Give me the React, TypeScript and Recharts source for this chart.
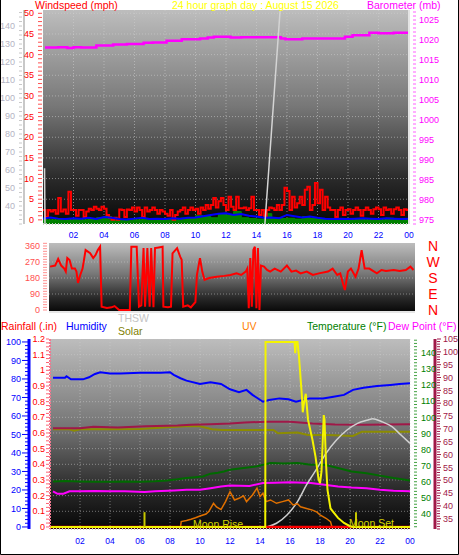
import {
  ComposedChart,
  Line,
  Area,
  XAxis,
  YAxis,
  CartesianGrid,
  ReferenceLine,
} from "recharts";

const FONT = "'Liberation Sans', Arial, sans-serif";

// x axis labels (hour of day), shared by all panels
const hourTicks = [2, 4, 6, 8, 10, 12, 14, 16, 18, 20, 22, 24];

// ---- top panel: wind speed (10 min samples), avg wind, low wind, barometer ----
const windSpeed = [
  2.4, 0.7, 2.4, 2, 2.4, 1.5, 5.3, 2, 2.5, 1.5, 6.8, 2.4,
  2.4, 1, 2.4, 2.4, 0.7, 2, 2.7, 2.4, 3.2, 2.7, 2.4, 3.2,
  2.7, 1.2, 0.5, 0, 0.5, 0, 2.5, 2.4, 0.7, 2.5, 2.4, 3,
  2, 3, 2.4, 0.7, 3, 2, 2.4, 3, 2.4, 1.5, 2.4, 2,
  1.5, 1, 2.4, 0, 1.2, 2, 2.4, 3, 1.5, 2.4, 3, 2.4,
  2.7, 1.5, 3, 2.4, 3.6, 2.7, 3.6, 5.3, 3, 4.5, 5.3, 3.6,
  2.4, 5.6, 3.2, 2.4, 5.6, 2.8, 2.8, 3, 2.4, 2.8, 5.6, 2.4,
  2.4, 1.2, 2.4, 0.7, 2.4, 3, 2.8, 2.4, 3.6, 2.4, 3.6, 7.8,
  7, 2.4, 5.6, 3, 4, 5.6, 3.6, 7.3, 8, 2.4, 3.6, 8.9,
  4, 7.3, 2.4, 5.6, 3, 2.4, 2.4, 0.7, 2.4, 3, 1.2, 2.4,
  2.6, 1.5, 2.4, 3, 2.4, 1, 2.4, 3, 2.4, 1.5, 2.6, 3,
  2.6, 1.2, 3, 2.4, 2.6, 1.5, 2.6, 3, 2.4, 1.2, 2.6, 2.4,
];
const windAvg = [
  0.3, 0.6, 0.3, 0.2, 0.4, 0.3, 0.5, 0.2, 0.7, 0.5, 0.2, 0.1, 0.3, 0.5, 0.2, 0.3,
  0.2, 0.4, 0.3, 0.5, 0.6, 0.9, 1.2, 1.5, 1.6, 1.2, 1.4, 1.0, 0.8, 0.5, 0.6, 0.4,
  1.2, 0.9, 0.6, 0.8, 0.5, 0.3, 0.2, 0.3, 0.2, 0.3, 0.4, 0.3, 0.2, 0.4, 0.3, 0.2, 0.3,
];
const windLow = [
  0, 0, 0.2, 0, 0.3, 0, 0.2, 0.5, 0.8, 0.3, 0, 0.2, 0, 0.3, 0.2, 0,
  0.2, 0, 0.4, 0.3, 1, 0.8, 0.5, 1.5, 1.2, 2, 0.5, 0.3, 0.2, 1.5, 0.5, 0.3,
  0.4, 0.2, 0.8, 0.3, 0.2, 0, 0.2, 0, 0, 0.3, 0, 0.2, 0, 0.4, 0.2, 0, 0,
];
const baroHours = [0.13, 1.0, 1.6, 2.0, 2.5, 3.5, 4.6, 5.5, 6.6, 7.2, 8.1, 9.1, 10.3, 10.8, 11.2, 12.3, 13, 14, 15.3, 15.6, 15.9, 17, 18, 19.2, 19.8, 20.3, 21.4, 22, 23, 24];
const baroValues = [1018.1, 1018.2, 1018.0, 1018.2, 1018.1, 1018.6, 1018.9, 1019, 1019.3, 1019.4, 1019.8, 1020.2, 1020.4, 1020.6, 1020.8, 1020.6, 1020.7, 1020.7, 1020.7, 1020.4, 1020.2, 1020.4, 1020.4, 1020.4, 1020.8, 1021.2, 1021.8, 1021.7, 1021.8, 1021.8];
const grayHours = [0.1, 0.13, 0.14, 14.55, 15.55];
const grayValues = [61, 30, null, 30, 149];

// ---- middle panel: wind direction (degrees) ----
const dirHours = [
  0.07, 0.4, 0.6, 0.8, 1.0, 1.1, 1.2, 1.35, 1.5, 1.7,
  1.8, 1.9, 2.05, 2.2, 2.4, 2.7, 2.9, 3.05, 3.2, 3.35,
  3.45, 3.8, 4.1, 4.3, 4.6, 4.9, 5.3, 5.4, 5.75, 5.9,
  6.05, 6.2, 6.3, 6.45, 6.6, 6.7, 6.85, 6.95, 7.2, 7.45,
  7.5, 7.8, 8.0, 8.1, 8.4, 8.6, 8.7, 8.8, 9.1, 9.3,
  9.6, 9.7, 9.9, 10.05, 10.2, 10.5, 11.0, 11.5, 11.9, 12.3,
  12.6, 12.9, 13.0, 13.1, 13.2, 13.3, 13.4, 13.5, 13.6, 13.7,
  13.8, 13.9, 14.1, 14.3, 14.5, 14.8, 15.2, 15.6, 15.9, 16.2,
  16.5, 16.9, 17.3, 17.7, 18.3, 18.6, 18.9, 19.1, 19.3, 19.4,
  19.6, 19.8, 20.1, 20.3, 20.5, 20.7, 21.0, 21.5, 21.8, 22.1,
  22.6, 23.0, 23.4, 23.7, 23.9,
];
const dirValues = [
  244, 250, 287, 250, 233, 216, 292, 281, 233, 233,
  216, 152, 197, 233, 337, 319, 292, 309, 337, 356,
  19, 11, 15, 22, 0, 0, 0, 356, 356, 19,
  26, 348, 19, 348, 19, 348, 15, 348, 352, 356,
  19, 15, 19, 319, 348, 300, 283, 19, 26, 15,
  45, 197, 292, 216, 169, 180, 187, 192, 197, 206,
  197, 216, 233, 10, 292, 19, 337, 356, 10, 348,
  0, 250, 244, 225, 216, 233, 216, 250, 216, 222,
  206, 216, 197, 206, 216, 233, 197, 206, 141, 112,
  216, 233, 187, 233, 337, 233, 233, 206, 225, 219,
  225, 219, 225, 244, 225,
];
const compass = ["N", "W", "S", "E", "N"];

// ---- bottom panel ----
const humHours = [0.2, 1.0, 1.1, 1.4, 2.2, 2.6, 3.0, 3.35, 4.0, 4.7, 6.0, 7.4, 8.0, 8.25, 8.7, 9.1, 10.0, 10.7, 11.4, 12.0, 12.6, 13.1, 13.5, 14.2, 14.6, 15.3, 15.9, 16.4, 17.3, 18.2, 18.9, 19.6, 20.2, 20.9, 21.8, 22.7, 23.3, 24];
const humValues = [80.7, 80.7, 81.5, 79.8, 79.8, 80.9, 82.7, 83.6, 83, 83, 83.4, 83.4, 83.6, 82.2, 80.4, 79.1, 77.3, 78.2, 77.3, 74.4, 72.9, 74.1, 71.4, 67.7, 68.6, 69.5, 69, 67.7, 69.5, 69.5, 70.4, 71.4, 74.1, 75.3, 76.2, 76.8, 77.3, 77.7];
const tempHours = [0.2, 1, 2, 3, 4, 5, 6, 7, 7.8, 8.5, 9.1, 9.7, 10.2, 10.7, 11.2, 11.6, 12, 12.9, 13.8, 14.7, 15.6, 16.5, 17.4, 18.3, 19.2, 20.1, 21.1, 22, 22.9, 24];
const tempValues = [60.2, 60.4, 60.2, 60, 60, 60.2, 60, 60.3, 60.8, 61.5, 62.3, 62.8, 63.3, 65, 65.6, 66.4, 67.5, 68.5, 69.6, 71.7, 71.3, 71.7, 70.6, 70.6, 68.5, 66.4, 65.3, 63.8, 62.3, 60.8];
const dewHours = [0.2, 0.5, 0.9, 1.3, 2, 3, 4, 5, 6.3, 7, 8.3, 9.1, 10, 10.7, 11.4, 12, 13.3, 14.2, 15, 16, 17.4, 18.3, 19.2, 20.1, 21.1, 22, 22.9, 24];
const dewValues = [54, 52.5, 52.5, 54, 54, 54.2, 54, 54, 53.6, 54, 54.6, 55, 55, 56, 57, 57.6, 57.4, 59.2, 59.4, 59.6, 59.2, 58.1, 57, 56.4, 56, 55, 54.4, 54];
const heatHours = [0.2, 2, 2.9, 4.5, 6.4, 8.5, 9.4, 10.7, 12, 13, 14.5, 16, 17.5, 19, 21, 24];
const heatValues = [70.2, 70.2, 70.8, 70.5, 71, 71.3, 71.6, 71.8, 72.1, 72.5, 72.8, 72.8, 72.1, 71.7, 71.6, 71.8];
const oliveHours = [0.2, 1.3, 1.6, 2, 4, 6, 7.8, 9, 10, 10.8, 11.5, 12, 14, 14.9, 15.2, 16.5, 17.2, 18.5, 20.2, 20.8, 24];
const oliveValues = [52.8, 52.8, 52, 52.8, 52.8, 53, 53.9, 54.4, 54.4, 52.8, 52.4, 52.4, 52.4, 52.4, 50.6, 51, 49.7, 49.7, 49.2, 51.5, 51.5];
const uvHours = [8.7, 8.75, 9.1, 9.4, 9.7, 10.0, 10.4, 10.6, 10.9, 11.1, 11.4, 11.7, 12.0, 12.3, 12.6, 12.9, 13.1, 13.5, 13.8, 14.0, 14.2, 14.4, 14.7, 15.1, 15.5, 15.9, 16.2, 16.5, 16.7, 17.1, 17.5, 17.8, 18.0, 18.4, 18.7, 18.8];
const uvValues = [0, 2.9, 3.5, 4.2, 5.0, 5.9, 7, 8.5, 12.8, 10.8, 9.4, 13.7, 19.1, 14.6, 15.5, 16.8, 13.7, 17.3, 21, 16.4, 18.2, 13.7, 14.6, 12.8, 13.7, 14.6, 11.9, 12.5, 10.9, 10, 9.1, 8.0, 6.5, 4.7, 2.9, 0];
const solarHours = [0, 14.35, 14.37, 16.3, 16.35, 16.4, 16.5, 16.6, 16.7, 16.8, 16.85, 16.95, 17.05, 17.2, 17.5, 17.7, 17.9, 18.0, 18.1, 18.2, 18.25, 18.3, 18.4, 18.5, 18.7, 19.2, 19.6, 20.0, 20.2, 24];
const solarValues = [0, 0, 100, 100, 94, 100, 100, 92, 81, 70, 62, 68, 72, 58, 47, 38, 26, 23.6, 30, 50, 60.5, 58, 34.4, 20, 10, 4.9, 2.2, 0.4, 0, 0];
const moonHours = [14.45, 15.1, 15.8, 16.5, 17.1, 17.8, 18.4, 19.1, 19.8, 20.5, 21.2, 21.5, 22.1, 22.8, 23.4, 24];
const moonValues = [0, 2, 6.5, 13.7, 22.7, 31.7, 39.8, 47, 52.4, 56, 57.8, 58.5, 57, 54.2, 49.7, 45.2];
const rainHours = [0, 24];
const rainValues = [0, 0];
const sunMarks = [6.3, 20.4];

const zip = (hours: number[], vals: (number | null)[]) => hours.map((t, i) => ({ t, v: vals[i] }));
const every = (vals: number[], per: number) => {
  const rows = vals.map((v, i) => ({ t: i / per, v }));
  rows.push({ t: 24, v: vals[vals.length - 1] });
  return rows;
};
const steps = (from: number, to: number, step: number) =>
  Array.from({ length: Math.round((to - from) / step) + 1 }, (_, i) => +(from + i * step).toFixed(3));

type TickOpts = {
  side: "left" | "right";
  color: string;
  dash?: string;
  gap: number;
  minor: number;
  major: number;
  pad: number;
  isMajor: (v: number) => boolean;
  fmt?: (v: number) => string;
};

// draws the dense minor tick marks and labels only on major values
const axisTick = (o: TickOpts) => (props: any) => {
  const { x, y, payload } = props;
  const v = payload.value as number;
  const big = o.isMajor(v);
  const d = o.side === "left" ? -1 : 1;
  const x0 = x + d * o.gap;
  return (
    <g>
      <line x1={x0} x2={x0 + d * (big ? o.major : o.minor)} y1={y} y2={y} stroke={o.dash ?? o.color} />
      {big && (
        <text
          x={x0 + d * (o.major + o.pad)}
          y={y}
          dy="0.35em"
          textAnchor={o.side === "left" ? "end" : "start"}
          fill={o.color}
          fontSize={9}
          fontFamily={FONT}
        >
          {o.fmt ? o.fmt(v) : v}
        </text>
      )}
    </g>
  );
};

const hourLabel = (v: number) => String(v % 24).padStart(2, "0");

const Bg = ({ id }: { id: string }) => (
  <defs>
    <linearGradient id={id} x1="0" y1="0" x2="0" y2="1">
      <stop offset="0%" stopColor="#bdbdbd" />
      <stop offset="45%" stopColor="#777777" />
      <stop offset="80%" stopColor="#282828" />
      <stop offset="100%" stopColor="#070707" />
    </linearGradient>
  </defs>
);

const xAxisProps = {
  xAxisId: "x",
  type: "number" as const,
  dataKey: "t",
  domain: [0, 24],
  allowDataOverflow: true,
  ticks: hourTicks,
  tickFormatter: hourLabel,
  interval: 0 as const,
  tickLine: false,
  tick: { fill: "#0000ff", fontSize: 8.5, fontFamily: FONT },
};

const yBase = { type: "number" as const, allowDataOverflow: true, interval: 0 as const, tickSize: 0, tickMargin: 0, tickLine: false };

// stacked axes on one side are placed by id: "a_" sits next to the plot, "b_" outside it
const TopPanel = () => (
  <ComposedChart width={459} height={250} margin={{ top: 10, right: 0, bottom: 0, left: 0 }}>
    <Bg id="bgTop" />
    <CartesianGrid
      xAxisId="x"
      yAxisId="a_mph"
      fill="url(#bgTop)"
      stroke="#d0d0d0"
      strokeOpacity={0.55}
      strokeDasharray="1 2"
      horizontalValues={steps(0, 50, 5)}
      verticalValues={hourTicks}
    />
    <XAxis {...xAxisProps} height={26} tickSize={4} tickMargin={4} axisLine={{ stroke: "#c8c8c8", strokeDasharray: "1 2", strokeWidth: 2 }} />
    <YAxis
      {...yBase}
      yAxisId="a_mph"
      orientation="left"
      width={19}
      domain={[-1, 50.8]}
      ticks={steps(0, 50, 1)}
      axisLine={false}
      tick={axisTick({ side: "left", color: "#ff0000", dash: "#ff5050", gap: 1, minor: 4, major: 4, pad: 4, isMajor: (v) => v % 5 === 0 })}
    />
    <YAxis
      {...yBase}
      yAxisId="b_gray"
      orientation="left"
      width={24}
      domain={[30, 148.9]}
      ticks={steps(30, 147.5, 2.5)}
      axisLine={{ stroke: "#c8c8c8", strokeWidth: 2 }}
      tick={axisTick({ side: "left", color: "#b4b4c4", dash: "#c8c8c8", gap: 2, minor: 3, major: 3, pad: 4, isMajor: (v) => v % 10 === 0 && v >= 40 })}
    />
    <YAxis
      {...yBase}
      yAxisId="baro"
      orientation="right"
      width={50}
      domain={[974, 1027.5]}
      ticks={steps(974, 1027, 1)}
      axisLine={false}
      tick={axisTick({ side: "right", color: "#ff00ff", dash: "#ff60ff", gap: 4, minor: 3, major: 3, pad: 3, isMajor: (v) => v % 5 === 0 })}
    />
    <Area
      xAxisId="x"
      yAxisId="a_mph"
      data={every(windLow, 2)}
      dataKey="v"
      type="stepAfter"
      baseValue={-1}
      stroke="#009000"
      fill="#008000"
      fillOpacity={1}
      isAnimationActive={false}
    />
    <Line xAxisId="x" yAxisId="a_mph" data={every(windSpeed, 6)} dataKey="v" type="stepAfter" stroke="#ff0000" strokeWidth={2} dot={false} isAnimationActive={false} />
    <Line xAxisId="x" yAxisId="a_mph" data={every(windAvg, 2)} dataKey="v" type="linear" stroke="#0000ff" strokeWidth={2} dot={false} isAnimationActive={false} />
    <Line xAxisId="x" yAxisId="baro" data={zip(baroHours, baroValues)} dataKey="v" type="stepAfter" stroke="#ff00ff" strokeWidth={2.5} dot={false} isAnimationActive={false} />
    <Line xAxisId="x" yAxisId="b_gray" data={zip(grayHours, grayValues)} dataKey="v" type="linear" stroke="#d4d4d4" strokeWidth={1.5} dot={false} connectNulls={false} isAnimationActive={false} />
    <ReferenceLine xAxisId="x" yAxisId="a_mph" x={24} stroke="#e4e4e4" strokeWidth={2} />
  </ComposedChart>
);

const MiddlePanel = () => (
  <ComposedChart width={459} height={80} margin={{ top: 6, right: 44, bottom: 0, left: 0 }}>
    <Bg id="bgMid" />
    <CartesianGrid
      xAxisId="x"
      yAxisId="dir"
      fill="url(#bgMid)"
      stroke="#d0d0d0"
      strokeOpacity={0.5}
      strokeDasharray="1 2"
      horizontalValues={[90, 180, 270]}
      verticalValues={hourTicks}
    />
    <XAxis {...xAxisProps} height={5} tick={false} axisLine={{ stroke: "#e6e6e6", strokeWidth: 2 }} />
    <YAxis
      {...yBase}
      yAxisId="dir"
      orientation="left"
      width={49}
      domain={[-11.25, 376.9]}
      ticks={steps(0, 375, 15)}
      axisLine={false}
      tick={axisTick({ side: "left", color: "#ff5050", dash: "#ff9090", gap: 2, minor: 4, major: 4, pad: 3, isMajor: (v) => v % 90 === 0 })}
    />
    <Line xAxisId="x" yAxisId="dir" data={zip(dirHours, dirValues)} dataKey="v" type="linear" stroke="#ff0000" strokeWidth={2} dot={false} isAnimationActive={false} />
  </ComposedChart>
);

const BottomPanel = () => (
  <ComposedChart width={459} height={225} margin={{ top: 9, right: 0, bottom: 0, left: 0 }}>
    <Bg id="bgBot" />
    <CartesianGrid
      xAxisId="x"
      yAxisId="a_rain"
      fill="url(#bgBot)"
      stroke="#d0d0d0"
      strokeOpacity={0.5}
      strokeDasharray="1 2"
      horizontalValues={steps(0.1, 1.1, 0.1)}
      verticalValues={hourTicks}
    />
    <XAxis {...xAxisProps} height={26} tickSize={5} tickMargin={4} axisLine={{ stroke: "#c8c8c8", strokeDasharray: "1 2", strokeWidth: 2 }} />
    <YAxis
      {...yBase}
      yAxisId="a_rain"
      orientation="left"
      width={21}
      domain={[-0.013, 1.2]}
      ticks={steps(0, 1.2, 0.025)}
      axisLine={{ stroke: "#f07890", strokeWidth: 2, strokeDasharray: "2 1" }}
      tick={axisTick({
        side: "left",
        color: "#ff0000",
        dash: "#ff6070",
        gap: 1,
        minor: 3,
        major: 3,
        pad: 1,
        isMajor: (v) => Math.round(v * 1000) % 100 === 0,
        fmt: (v) => String(+v.toFixed(1)),
      })}
    />
    <YAxis
      {...yBase}
      yAxisId="b_hum"
      orientation="left"
      width={29}
      domain={[-1.1, 101.6]}
      ticks={steps(0, 100, 2)}
      axisLine={{ stroke: "#0000ff", strokeWidth: 3 }}
      tick={axisTick({ side: "left", color: "#0000ff", gap: 1, minor: 3, major: 6, pad: 1, isMajor: (v) => v % 10 === 0 })}
    />
    <YAxis
      {...yBase}
      yAxisId="a_temp"
      orientation="right"
      width={25}
      domain={[30.6, 148.75]}
      ticks={steps(32, 148, 2)}
      axisLine={false}
      tick={axisTick({ side: "right", color: "#008000", dash: "#40a040", gap: 4, minor: 3, major: 3, pad: 4, isMajor: (v) => v % 10 === 0 })}
    />
    <YAxis
      {...yBase}
      yAxisId="b_dew"
      orientation="right"
      width={24}
      domain={[31, 105]}
      ticks={steps(31, 105, 1)}
      axisLine={{ stroke: "#a01848", strokeWidth: 3 }}
      tick={axisTick({ side: "right", color: "#a01848", gap: 2, minor: 3, major: 4, pad: 2, isMajor: (v) => v % 5 === 0 })}
    />
    <Line xAxisId="x" yAxisId="b_hum" data={zip(oliveHours, oliveValues)} dataKey="v" type="linear" stroke="#8c8c00" strokeWidth={2} dot={false} isAnimationActive={false} />
    <Line xAxisId="x" yAxisId="b_dew" data={zip(heatHours, heatValues)} dataKey="v" type="linear" stroke="#a01848" strokeWidth={2} dot={false} isAnimationActive={false} />
    <Line xAxisId="x" yAxisId="a_temp" data={zip(tempHours, tempValues)} dataKey="v" type="linear" stroke="#006a00" strokeWidth={2} dot={false} isAnimationActive={false} />
    <Line xAxisId="x" yAxisId="a_temp" data={zip(dewHours, dewValues)} dataKey="v" type="linear" stroke="#ff00ff" strokeWidth={2} dot={false} isAnimationActive={false} />
    <Line xAxisId="x" yAxisId="b_hum" data={zip(humHours, humValues)} dataKey="v" type="linear" stroke="#0000ff" strokeWidth={2} dot={false} isAnimationActive={false} />
    <Line xAxisId="x" yAxisId="b_hum" data={zip(moonHours, moonValues)} dataKey="v" type="monotone" stroke="#d0d0d0" strokeWidth={1.5} dot={false} isAnimationActive={false} />
    <Line xAxisId="x" yAxisId="b_hum" data={zip(uvHours, uvValues)} dataKey="v" type="linear" stroke="#e07000" strokeWidth={1.5} dot={false} isAnimationActive={false} />
    <Line xAxisId="x" yAxisId="a_rain" data={zip(rainHours, rainValues)} dataKey="v" type="linear" stroke="#ff0000" strokeWidth={2.5} dot={false} isAnimationActive={false} />
    <Line xAxisId="x" yAxisId="b_hum" data={zip(solarHours, solarValues)} dataKey="v" type="linear" stroke="#f4f400" strokeWidth={2} dot={false} isAnimationActive={false} />
    {sunMarks.map((h) => (
      <ReferenceLine
        key={h}
        xAxisId="x"
        yAxisId="b_hum"
        segment={[{ x: h, y: 0 }, { x: h, y: 8 }]}
        stroke="#c8c800"
        strokeWidth={2}
      />
    ))}
  </ComposedChart>
);

const titles = [
  { text: "Windspeed (mph)", x: 35, y: 9, color: "#ff0000" },
  { text: "24 hour graph day : August 15 2026", x: 172, y: 9, color: "#ffff00" },
  { text: "Barometer (mb)", x: 367, y: 9, color: "#ff00ff" },
  { text: "Rainfall (.in)", x: 1, y: 330, color: "#ff0000" },
  { text: "Humidity", x: 66, y: 330, color: "#0000ff" },
  { text: "THSW", x: 118, y: 322, color: "#c4c4c4" },
  { text: "Solar", x: 118, y: 335, color: "#808000" },
  { text: "UV", x: 242, y: 330, color: "#ff8000" },
  { text: "Temperature (°F)", x: 307, y: 330, color: "#008000" },
  { text: "Dew Point (°F)", x: 388, y: 330, color: "#ff00ff" },
  { text: "Moon Rise", x: 193, y: 528, color: "#d4d400" },
  { text: "Moon Set", x: 349, y: 527, color: "#d4d400" },
];

export default function App() {
  return (
    <div style={{ position: "absolute", left: 0, top: 0, width: 459, height: 555, background: "#ffffff", overflow: "hidden" }}>
      <div style={{ position: "absolute", left: 0, top: 0 }}>
        <TopPanel />
      </div>
      <div style={{ position: "absolute", left: 0, top: 237 }}>
        <MiddlePanel />
      </div>
      <div style={{ position: "absolute", left: 0, top: 330 }}>
        <BottomPanel />
      </div>
      <svg width={459} height={555} style={{ position: "absolute", left: 0, top: 0, pointerEvents: "none" }}>
        {titles.map((t) => (
          <text key={t.text} x={t.x} y={t.y} fill={t.color} fontSize={10.5} fontFamily={FONT}>
            {t.text}
          </text>
        ))}
        {compass.map((c, i) => (
          <text key={i} x={433} y={246 + i * 16} dy="0.35em" textAnchor="middle" fill="#ff0000" fontSize={14} fontFamily={FONT}>
            {c}
          </text>
        ))}
        <path d="M0.5 0 V554.5 H458.5 V0" fill="none" stroke="#000000" />
      </svg>
    </div>
  );
}
